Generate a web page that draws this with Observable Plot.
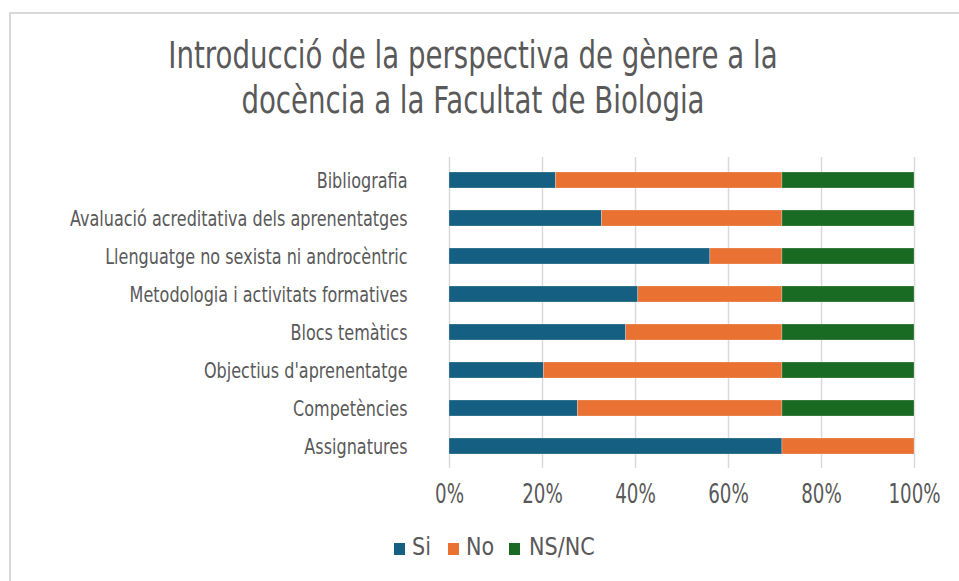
<!DOCTYPE html>
<html><head><meta charset="utf-8">
<script src="https://cdn.jsdelivr.net/npm/d3@7"></script>
<script src="https://cdn.jsdelivr.net/npm/@observablehq/plot@0.6"></script>
<style>
body{margin:0;background:#fff;width:959px;height:581px;overflow:hidden;position:relative;font-family:"Liberation Sans Narrow","DejaVu Sans Condensed","Liberation Sans",sans-serif;}
#frame{position:absolute;left:9px;top:12px;width:960px;height:600px;border-left:2px solid #d9d9d9;border-top:2px solid #d9d9d9;}
#title{position:absolute;left:0;top:33px;width:946px;text-align:center;font-size:37px;line-height:45px;color:#595959;transform:scaleX(0.83);transform-origin:473px 0;}
#chart{position:absolute;left:0;top:140px;}
.lt{position:absolute;top:535px;height:24px;line-height:24px;font-size:24px;color:#595959;white-space:nowrap;transform:scaleX(0.96);transform-origin:0 0;}
.sw{position:absolute;top:543px;width:11px;height:12px;}
</style></head>
<body>
<div id="frame"></div>
<div id="title">Introducció de la perspectiva de gènere a la<br>docència a la Facultat de Biologia</div>
<div id="chart"></div>
<div id="legend"></div>
<script>
const categories = ["Bibliografia","Avaluació acreditativa dels aprenentatges","Llenguatge no sexista ni androcèntric","Metodologia i activitats formatives","Blocs temàtics","Objectius d'aprenentatge","Competències","Assignatures"];
const responses = ["Si","No","NS/NC"];
const colors = ["#156082","#E97132","#196B24"];
const si   = [22.9, 32.8, 56.1, 40.6, 38.0, 20.3, 27.6, 71.6];
const no   = [48.7, 38.8, 15.5, 31.0, 33.6, 51.3, 44.0, 28.4];
const nsnc = [28.4, 28.4, 28.4, 28.4, 28.4, 28.4, 28.4, 0];
const xTicks = [0, 20, 40, 60, 80, 100];

const series = [si, no, nsnc];
const data = [];
categories.forEach((c, i) => responses.forEach((r, j) => data.push({category: c, resposta: r, value: series[j][i]})));

const chart = Plot.plot({
  width: 959, height: 370,
  marginLeft: 449, marginRight: 45, marginTop: 17, marginBottom: 42,
  style: {color: "#595959", fontFamily: '"Liberation Sans Narrow","DejaVu Sans Condensed","Liberation Sans",sans-serif', background: "transparent"},
  x: {domain: [0, 100]},
  y: {domain: categories, paddingInner: 0.59, paddingOuter: 0.295},
  color: {domain: responses, range: colors},
  marks: [
    Plot.ruleX(xTicks, {stroke: "#d9d9d9", strokeWidth: 1.5}),
    Plot.barX(data, Plot.stackX({x: "value", y: "category", fill: "resposta", order: responses, stroke: "#ffffff", strokeOpacity: 0.4, strokeWidth: 0.6})),
    Plot.axisX({ticks: xTicks, tickFormat: d => d + "%", tickSize: 0, tickPadding: 16, fontSize: 26, label: null}),
    Plot.axisY({tickSize: 0, tickPadding: 42, fontSize: 22, label: null})
  ]
});
document.getElementById("chart").appendChild(chart);

// condense glyphs to mimic the narrow font of the original
function condense(sel, k) {
  chart.querySelectorAll(sel).forEach(t => {
    const w = t.getComputedTextLength();
    t.setAttribute("textLength", (w * k).toFixed(2));
    t.setAttribute("lengthAdjust", "spacingAndGlyphs");
  });
}
condense('g[aria-label="y-axis tick label"] text', 0.81);
condense('g[aria-label="x-axis tick label"] text', 0.78);

const swLeft = [394, 448, 509];
const txtLeft = [412, 466, 529];
const legend = d3.select("#legend");
responses.forEach((r, j) => {
  legend.append("div").attr("class", "sw").style("left", swLeft[j] + "px").style("background", colors[j]);
  legend.append("div").attr("class", "lt").style("left", txtLeft[j] + "px").text(r);
});
</script>
</body></html>
